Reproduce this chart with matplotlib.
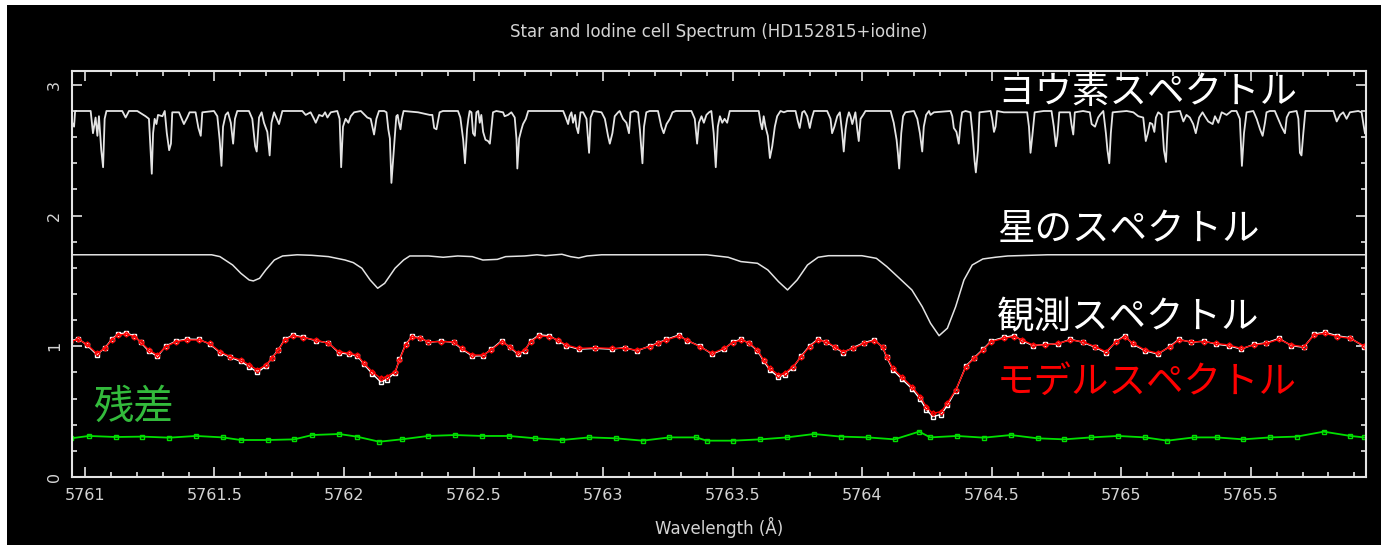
import matplotlib
matplotlib.use("Agg")
import matplotlib.pyplot as plt
from matplotlib.patches import Rectangle
from matplotlib.ticker import MultipleLocator, FuncFormatter

# iodine cell spectrum (wavelength, flux)
iodine_points = [
    (5760.951, 2.71), (5760.958, 2.68), (5760.962, 2.80), (5761.022, 2.80), (5761.031, 2.63),
    (5761.041, 2.75), (5761.048, 2.61), (5761.054, 2.76), (5761.063, 2.50), (5761.070, 2.37),
    (5761.076, 2.74), (5761.083, 2.80), (5761.144, 2.80), (5761.157, 2.75), (5761.170, 2.80),
    (5761.202, 2.80), (5761.234, 2.76), (5761.247, 2.74), (5761.258, 2.32), (5761.263, 2.63),
    (5761.269, 2.74), (5761.276, 2.70), (5761.282, 2.77), (5761.299, 2.76), (5761.308, 2.80),
    (5761.316, 2.63), (5761.325, 2.50), (5761.332, 2.55), (5761.337, 2.79), (5761.363, 2.79),
    (5761.382, 2.70), (5761.395, 2.75), (5761.404, 2.79), (5761.427, 2.79), (5761.438, 2.67),
    (5761.447, 2.61), (5761.453, 2.79), (5761.498, 2.80), (5761.511, 2.76), (5761.520, 2.58),
    (5761.527, 2.38), (5761.533, 2.68), (5761.543, 2.77), (5761.552, 2.79), (5761.563, 2.71),
    (5761.572, 2.55), (5761.579, 2.74), (5761.588, 2.80), (5761.633, 2.80), (5761.646, 2.74),
    (5761.657, 2.53), (5761.663, 2.49), (5761.672, 2.75), (5761.682, 2.79), (5761.691, 2.71),
    (5761.704, 2.64), (5761.713, 2.46), (5761.720, 2.71), (5761.730, 2.79), (5761.749, 2.70),
    (5761.762, 2.80), (5761.839, 2.80), (5761.852, 2.77), (5761.871, 2.79), (5761.884, 2.74),
    (5761.891, 2.71), (5761.904, 2.77), (5761.917, 2.76), (5761.927, 2.79), (5761.936, 2.75),
    (5761.949, 2.79), (5761.974, 2.80), (5761.983, 2.74), (5761.989, 2.37), (5761.996, 2.68),
    (5762.006, 2.74), (5762.017, 2.71), (5762.026, 2.76), (5762.039, 2.79), (5762.065, 2.80),
    (5762.090, 2.75), (5762.103, 2.74), (5762.116, 2.62), (5762.125, 2.74), (5762.135, 2.80),
    (5762.155, 2.80), (5762.164, 2.79), (5762.171, 2.66), (5762.177, 2.59), (5762.183, 2.25),
    (5762.192, 2.50), (5762.197, 2.63), (5762.202, 2.76), (5762.207, 2.77), (5762.212, 2.71),
    (5762.218, 2.66), (5762.223, 2.74), (5762.230, 2.80), (5762.286, 2.79), (5762.331, 2.77),
    (5762.341, 2.77), (5762.348, 2.67), (5762.357, 2.66), (5762.369, 2.79), (5762.382, 2.80),
    (5762.440, 2.80), (5762.449, 2.75), (5762.460, 2.58), (5762.467, 2.40), (5762.475, 2.66),
    (5762.480, 2.74), (5762.485, 2.80), (5762.492, 2.79), (5762.498, 2.63), (5762.505, 2.61),
    (5762.511, 2.79), (5762.518, 2.80), (5762.524, 2.71), (5762.530, 2.77), (5762.537, 2.64),
    (5762.546, 2.58), (5762.556, 2.57), (5762.563, 2.55), (5762.575, 2.79), (5762.588, 2.80),
    (5762.614, 2.79), (5762.620, 2.76), (5762.633, 2.77), (5762.646, 2.79), (5762.659, 2.75),
    (5762.666, 2.58), (5762.669, 2.36), (5762.676, 2.59), (5762.685, 2.66), (5762.691, 2.70),
    (5762.702, 2.74), (5762.711, 2.80), (5762.846, 2.80), (5762.856, 2.75), (5762.865, 2.70),
    (5762.871, 2.76), (5762.878, 2.79), (5762.884, 2.71), (5762.892, 2.77), (5762.897, 2.68),
    (5762.904, 2.63), (5762.913, 2.79), (5762.923, 2.79), (5762.936, 2.74), (5762.946, 2.48),
    (5762.952, 2.75), (5762.962, 2.80), (5762.994, 2.79), (5763.007, 2.74), (5763.019, 2.61),
    (5763.026, 2.55), (5763.036, 2.63), (5763.045, 2.76), (5763.058, 2.79), (5763.064, 2.80),
    (5763.077, 2.74), (5763.090, 2.71), (5763.100, 2.63), (5763.106, 2.79), (5763.122, 2.80),
    (5763.135, 2.79), (5763.142, 2.66), (5763.152, 2.40), (5763.158, 2.68), (5763.167, 2.79),
    (5763.180, 2.80), (5763.212, 2.80), (5763.225, 2.68), (5763.234, 2.63), (5763.245, 2.70),
    (5763.258, 2.74), (5763.268, 2.79), (5763.281, 2.80), (5763.341, 2.80), (5763.354, 2.74),
    (5763.363, 2.55), (5763.370, 2.71), (5763.380, 2.76), (5763.389, 2.71), (5763.399, 2.77),
    (5763.409, 2.79), (5763.418, 2.80), (5763.427, 2.63), (5763.435, 2.37), (5763.443, 2.68),
    (5763.451, 2.76), (5763.460, 2.71), (5763.469, 2.74), (5763.479, 2.71), (5763.489, 2.80),
    (5763.601, 2.80), (5763.608, 2.71), (5763.614, 2.66), (5763.620, 2.76), (5763.627, 2.68),
    (5763.636, 2.61), (5763.644, 2.44), (5763.653, 2.53), (5763.663, 2.68), (5763.672, 2.76),
    (5763.685, 2.80), (5763.698, 2.79), (5763.711, 2.80), (5763.743, 2.80), (5763.752, 2.72),
    (5763.759, 2.67), (5763.769, 2.79), (5763.777, 2.80), (5763.788, 2.76), (5763.798, 2.67),
    (5763.805, 2.74), (5763.814, 2.80), (5763.865, 2.80), (5763.878, 2.74), (5763.884, 2.63),
    (5763.893, 2.68), (5763.904, 2.76), (5763.914, 2.79), (5763.923, 2.63), (5763.929, 2.49),
    (5763.936, 2.66), (5763.942, 2.74), (5763.949, 2.79), (5763.955, 2.76), (5763.962, 2.70),
    (5763.974, 2.79), (5763.981, 2.66), (5763.987, 2.57), (5763.994, 2.74), (5764.004, 2.77),
    (5764.013, 2.80), (5764.110, 2.80), (5764.122, 2.71), (5764.133, 2.58), (5764.138, 2.48),
    (5764.143, 2.36), (5764.151, 2.63), (5764.158, 2.76), (5764.167, 2.79), (5764.200, 2.80),
    (5764.213, 2.74), (5764.223, 2.63), (5764.232, 2.49), (5764.238, 2.68), (5764.247, 2.77),
    (5764.258, 2.80), (5764.264, 2.77), (5764.277, 2.79), (5764.341, 2.80), (5764.348, 2.76),
    (5764.354, 2.67), (5764.364, 2.64), (5764.373, 2.55), (5764.380, 2.71), (5764.386, 2.79),
    (5764.399, 2.80), (5764.418, 2.79), (5764.426, 2.63), (5764.434, 2.42), (5764.439, 2.33),
    (5764.447, 2.50), (5764.453, 2.79), (5764.496, 2.80), (5764.502, 2.74), (5764.509, 2.64),
    (5764.515, 2.68), (5764.521, 2.80), (5764.547, 2.79), (5764.560, 2.79), (5764.637, 2.79),
    (5764.644, 2.68), (5764.650, 2.48), (5764.657, 2.61), (5764.666, 2.79), (5764.701, 2.80),
    (5764.731, 2.80), (5764.740, 2.68), (5764.748, 2.53), (5764.754, 2.61), (5764.761, 2.79),
    (5764.802, 2.79), (5764.808, 2.70), (5764.815, 2.62), (5764.821, 2.79), (5764.853, 2.80),
    (5764.879, 2.79), (5764.886, 2.70), (5764.899, 2.68), (5764.911, 2.75), (5764.918, 2.77),
    (5764.931, 2.80), (5764.941, 2.63), (5764.947, 2.50), (5764.954, 2.40), (5764.960, 2.63),
    (5764.967, 2.79), (5765.021, 2.80), (5765.047, 2.79), (5765.066, 2.76), (5765.085, 2.75),
    (5765.095, 2.57), (5765.103, 2.63), (5765.111, 2.71), (5765.120, 2.70), (5765.128, 2.64),
    (5765.134, 2.75), (5765.143, 2.79), (5765.156, 2.77), (5765.165, 2.50), (5765.173, 2.41),
    (5765.178, 2.63), (5765.183, 2.79), (5765.227, 2.80), (5765.240, 2.72), (5765.252, 2.77),
    (5765.265, 2.75), (5765.278, 2.70), (5765.288, 2.63), (5765.301, 2.75), (5765.314, 2.79),
    (5765.323, 2.76), (5765.336, 2.72), (5765.353, 2.70), (5765.362, 2.76), (5765.375, 2.71),
    (5765.388, 2.79), (5765.407, 2.77), (5765.426, 2.80), (5765.445, 2.80), (5765.458, 2.74),
    (5765.466, 2.38), (5765.474, 2.63), (5765.484, 2.79), (5765.510, 2.80), (5765.523, 2.74),
    (5765.536, 2.66), (5765.546, 2.61), (5765.555, 2.71), (5765.561, 2.79), (5765.574, 2.80),
    (5765.593, 2.80), (5765.606, 2.74), (5765.619, 2.68), (5765.632, 2.63), (5765.639, 2.75),
    (5765.649, 2.79), (5765.677, 2.80), (5765.684, 2.74), (5765.690, 2.48), (5765.696, 2.46),
    (5765.703, 2.63), (5765.711, 2.80), (5765.819, 2.80), (5765.832, 2.72), (5765.845, 2.77),
    (5765.857, 2.79), (5765.870, 2.74), (5765.883, 2.79), (5765.915, 2.80), (5765.928, 2.79),
    (5765.935, 2.70), (5765.941, 2.63),
]

# stellar template (wavelength, flux)
star_points = [
    (5760.950, 1.700), (5761.489, 1.700), (5761.521, 1.686), (5761.570, 1.622), (5761.602, 1.558),
    (5761.634, 1.507), (5761.650, 1.500), (5761.674, 1.520), (5761.698, 1.584), (5761.731, 1.660),
    (5761.763, 1.691), (5761.819, 1.700), (5761.876, 1.696), (5761.940, 1.686), (5762.004, 1.660),
    (5762.036, 1.640), (5762.069, 1.597), (5762.101, 1.507), (5762.130, 1.444), (5762.157, 1.482),
    (5762.197, 1.597), (5762.230, 1.660), (5762.254, 1.691), (5762.326, 1.691), (5762.383, 1.681),
    (5762.439, 1.691), (5762.495, 1.686), (5762.536, 1.660), (5762.592, 1.665), (5762.624, 1.686),
    (5762.697, 1.691), (5762.745, 1.700), (5762.777, 1.693), (5762.841, 1.704), (5762.874, 1.686),
    (5762.906, 1.676), (5762.938, 1.691), (5762.994, 1.700), (5763.400, 1.700), (5763.483, 1.681),
    (5763.532, 1.648), (5763.596, 1.635), (5763.636, 1.584), (5763.677, 1.495), (5763.712, 1.431),
    (5763.749, 1.507), (5763.789, 1.622), (5763.830, 1.681), (5763.870, 1.693), (5763.999, 1.693),
    (5764.055, 1.673), (5764.095, 1.610), (5764.144, 1.520), (5764.192, 1.431), (5764.232, 1.303),
    (5764.264, 1.176), (5764.297, 1.081), (5764.329, 1.138), (5764.361, 1.303), (5764.393, 1.507),
    (5764.425, 1.622), (5764.466, 1.668), (5764.514, 1.681), (5764.562, 1.691), (5764.715, 1.700),
    (5765.945, 1.700),
]

# observed and model spectrum: (wavelength, observed, model)
fit_points = [
    (5760.942, 1.040, 1.035), (5760.974, 1.058, 1.053), (5761.006, 1.012, 1.017), (5761.046, 0.935, 0.946),
    (5761.078, 0.990, 0.984), (5761.103, 1.052, 1.048), (5761.127, 1.095, 1.087), (5761.159, 1.102, 1.092),
    (5761.191, 1.080, 1.074), (5761.215, 1.030, 1.035), (5761.247, 0.962, 0.971), (5761.280, 0.922, 0.933),
    (5761.312, 1.002, 0.997), (5761.352, 1.040, 1.035), (5761.392, 1.055, 1.048), (5761.441, 1.052, 1.048),
    (5761.481, 1.018, 1.022), (5761.521, 0.952, 0.959), (5761.561, 0.915, 0.921), (5761.602, 0.884, 0.895),
    (5761.634, 0.843, 0.857), (5761.666, 0.800, 0.819), (5761.698, 0.848, 0.857), (5761.722, 0.912, 0.908),
    (5761.747, 0.975, 0.971), (5761.771, 1.052, 1.048), (5761.803, 1.088, 1.079), (5761.843, 1.070, 1.066),
    (5761.892, 1.042, 1.048), (5761.940, 1.026, 1.022), (5761.980, 0.950, 0.959), (5762.020, 0.940, 0.946),
    (5762.052, 0.925, 0.933), (5762.077, 0.862, 0.870), (5762.109, 0.790, 0.806), (5762.141, 0.728, 0.755),
    (5762.165, 0.745, 0.768), (5762.197, 0.798, 0.806), (5762.214, 0.900, 0.895), (5762.238, 1.015, 1.010),
    (5762.262, 1.075, 1.069), (5762.294, 1.066, 1.061), (5762.326, 1.030, 1.035), (5762.375, 1.040, 1.035),
    (5762.423, 1.030, 1.035), (5762.455, 0.978, 0.984), (5762.495, 0.925, 0.933), (5762.536, 0.928, 0.933),
    (5762.568, 0.976, 0.971), (5762.608, 1.042, 1.035), (5762.640, 0.992, 0.997), (5762.672, 0.938, 0.946),
    (5762.697, 0.966, 0.971), (5762.721, 1.040, 1.035), (5762.753, 1.088, 1.079), (5762.793, 1.080, 1.074),
    (5762.825, 1.044, 1.048), (5762.858, 1.004, 1.010), (5762.906, 0.978, 0.984), (5762.970, 0.984, 0.989),
    (5763.035, 0.978, 0.984), (5763.083, 0.990, 0.984), (5763.131, 0.965, 0.971), (5763.180, 1.002, 0.997),
    (5763.212, 1.026, 1.022), (5763.244, 1.052, 1.048), (5763.292, 1.086, 1.079), (5763.324, 1.044, 1.048),
    (5763.373, 1.002, 0.997), (5763.421, 0.940, 0.946), (5763.467, 0.978, 0.984), (5763.500, 1.032, 1.027),
    (5763.532, 1.055, 1.048), (5763.564, 1.022, 1.027), (5763.596, 0.965, 0.971), (5763.620, 0.886, 0.895),
    (5763.644, 0.818, 0.831), (5763.677, 0.765, 0.781), (5763.701, 0.780, 0.793), (5763.733, 0.836, 0.844),
    (5763.765, 0.926, 0.921), (5763.797, 1.003, 0.997), (5763.830, 1.056, 1.048), (5763.862, 1.030, 1.035),
    (5763.894, 0.992, 0.997), (5763.926, 0.952, 0.959), (5763.966, 0.990, 0.984), (5764.007, 1.028, 1.022),
    (5764.047, 1.050, 1.043), (5764.079, 0.992, 0.997), (5764.095, 0.915, 0.921), (5764.119, 0.820, 0.831),
    (5764.152, 0.752, 0.768), (5764.192, 0.676, 0.691), (5764.224, 0.596, 0.615), (5764.248, 0.515, 0.538),
    (5764.272, 0.462, 0.487), (5764.305, 0.478, 0.500), (5764.329, 0.548, 0.564), (5764.361, 0.660, 0.666),
    (5764.401, 0.850, 0.844), (5764.433, 0.914, 0.908), (5764.466, 0.976, 0.971), (5764.498, 1.040, 1.035),
    (5764.546, 1.068, 1.061), (5764.586, 1.082, 1.074), (5764.619, 1.042, 1.048), (5764.659, 1.005, 1.010),
    (5764.707, 1.015, 1.010), (5764.755, 1.018, 1.022), (5764.804, 1.054, 1.048), (5764.852, 1.030, 1.035),
    (5764.900, 0.992, 0.997), (5764.941, 0.950, 0.959), (5764.981, 1.040, 1.035), (5765.013, 1.082, 1.074),
    (5765.045, 1.016, 1.022), (5765.093, 0.965, 0.971), (5765.142, 0.940, 0.946), (5765.190, 1.002, 0.997),
    (5765.222, 1.054, 1.048), (5765.271, 1.030, 1.035), (5765.319, 1.040, 1.035), (5765.367, 1.016, 1.022),
    (5765.415, 1.004, 1.010), (5765.464, 0.978, 0.984), (5765.512, 1.015, 1.010), (5765.560, 1.026, 1.022),
    (5765.609, 1.060, 1.053), (5765.657, 1.005, 1.010), (5765.705, 0.992, 0.997), (5765.746, 1.095, 1.087),
    (5765.786, 1.108, 1.099), (5765.834, 1.080, 1.074), (5765.882, 1.066, 1.061), (5765.939, 0.996, 1.002),
]

# residuals (wavelength, value), plotted with an offset around 0.3
residual_points = [
    (5760.946, 0.296), (5761.015, 0.314), (5761.119, 0.306), (5761.222, 0.309), (5761.326, 0.301),
    (5761.429, 0.314), (5761.532, 0.303), (5761.601, 0.283), (5761.705, 0.283), (5761.808, 0.288),
    (5761.877, 0.321), (5761.981, 0.329), (5762.049, 0.309), (5762.136, 0.270), (5762.222, 0.288),
    (5762.325, 0.314), (5762.429, 0.321), (5762.532, 0.314), (5762.636, 0.314), (5762.739, 0.296),
    (5762.842, 0.283), (5762.946, 0.303), (5763.049, 0.296), (5763.153, 0.278), (5763.256, 0.303),
    (5763.359, 0.303), (5763.400, 0.278), (5763.503, 0.278), (5763.607, 0.288), (5763.710, 0.303),
    (5763.814, 0.329), (5763.918, 0.309), (5764.021, 0.303), (5764.125, 0.288), (5764.220, 0.347),
    (5764.263, 0.303), (5764.366, 0.314), (5764.470, 0.301), (5764.574, 0.321), (5764.677, 0.296),
    (5764.781, 0.288), (5764.884, 0.303), (5764.988, 0.314), (5765.092, 0.303), (5765.178, 0.278),
    (5765.281, 0.303), (5765.368, 0.303), (5765.471, 0.288), (5765.575, 0.303), (5765.678, 0.309),
    (5765.782, 0.347), (5765.885, 0.314), (5765.937, 0.303),
]

# annotation labels: (text, wavelength, flux, colour)
labels = [
    ("ヨウ素スペクトル", 5764.52, 2.94, "white"),
    ("星のスペクトル", 5764.52, 1.89, "white"),
    ("観測スペクトル", 5764.52, 1.225, "white"),
    ("モデルスペクトル", 5764.52, 0.72, "#ff0000"),
    ("残差", 5761.03, 0.535, "#33bb3c"),
]

title = "Star and Iodine cell Spectrum (HD152815+iodine)"
xlabel = "Wavelength (Å)"

fg = "#e4e4e4"
txt = "#d4d4d4"

fig = plt.figure(figsize=(13.81, 5.48), dpi=100, facecolor="white")
fig.patches.append(Rectangle((7 / 1381, 3 / 548), 1 - 7 / 1381, 540 / 548,
                             transform=fig.transFigure, facecolor="black",
                             edgecolor="none", zorder=-10))
ax = fig.add_axes([72 / 1381, 71 / 548, 1294 / 1381, 406 / 548], facecolor="black")
ax.set_zorder(5)

iw, ifl = zip(*iodine_points)
sw, sfl = zip(*star_points)
fw, fobs, fmod = zip(*fit_points)
rw, rfl = zip(*residual_points)

ax.plot(iw, ifl, color=fg, lw=1.3)
ax.plot(sw, sfl, color=fg, lw=1.1)
ax.plot(fw, fobs, color="white", lw=1.0, marker="s", ms=3.2, mfc="none", mec="white", mew=1.0)
ax.plot(fw, fmod, color="#ff0000", lw=1.0, marker="D", ms=2.6, mfc="none", mec="#ff0000", mew=1.0)
ax.plot(rw, rfl, color="#00e000", lw=1.3, marker="s", ms=2.8, mfc="none", mec="#00e000", mew=1.0)

ax.set_xlim(5760.95, 5765.945)
ax.set_ylim(0, 3.106)
ax.xaxis.set_major_locator(MultipleLocator(0.5))
ax.xaxis.set_minor_locator(MultipleLocator(0.1))
ax.yaxis.set_major_locator(MultipleLocator(1))
ax.yaxis.set_minor_locator(MultipleLocator(0.2))
ax.xaxis.set_major_formatter(FuncFormatter(lambda v, p: f"{v:g}"))
ax.yaxis.set_major_formatter(FuncFormatter(lambda v, p: f"{v:g}"))

ax.tick_params(which="both", direction="in", top=True, right=True, color=fg, width=1.2)
ax.tick_params(which="major", length=7)
ax.tick_params(which="minor", length=3.5)
ax.tick_params(axis="x", labelcolor=txt, labelsize=11.5, pad=8)
ax.tick_params(axis="y", labelcolor=txt, labelsize=11.5, pad=7, labelrotation=90)
for lab in ax.get_yticklabels():
    lab.set_va("center")
for sp in ax.spines.values():
    sp.set_color(fg)
    sp.set_linewidth(1.5)

fig.text(719 / 1381, 1 - 32 / 548, title, ha="center", va="center", color=txt, fontsize=12)
fig.text(719 / 1381, 1 - 527 / 548, xlabel, ha="center", va="center", color=txt, fontsize=12)

for text, x, y, col in labels:
    size = 29 if text == "残差" else 27
    ax.text(x, y, text, color=col, fontsize=size, ha="left", va="center",
            family=["Noto Sans CJK JP", "DejaVu Sans"])

fig.savefig("out.png", dpi=100, facecolor=fig.get_facecolor())
